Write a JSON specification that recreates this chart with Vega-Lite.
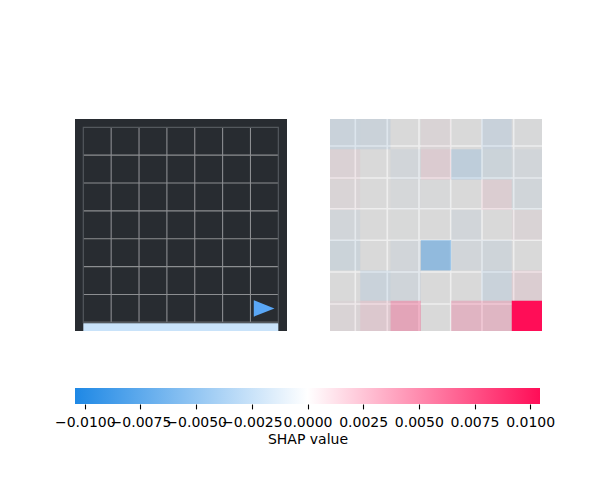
{
  "$schema": "https://vega.github.io/schema/vega-lite/v6.json",
  "background": "white",
  "padding": {"left": 54, "top": 118, "right": 0, "bottom": 0},
  "config": {"view": {"stroke": null}, "font": "DejaVu Sans"},
  "datasets": {
    "shap": [
      {"r": 0, "c": 0, "v": -0.00089}, {"r": 0, "c": 1, "v": -0.00078}, {"r": 0, "c": 2, "v": 0.00002}, {"r": 0, "c": 3, "v": 0.00026}, {"r": 0, "c": 4, "v": 0.00001}, {"r": 0, "c": 5, "v": -0.00094}, {"r": 0, "c": 6, "v": -0.0001},
      {"r": 1, "c": 0, "v": 0.00037}, {"r": 1, "c": 1, "v": 0.00002}, {"r": 1, "c": 2, "v": -0.00042}, {"r": 1, "c": 3, "v": 0.00068}, {"r": 1, "c": 4, "v": -0.00146}, {"r": 1, "c": 5, "v": -0.00073}, {"r": 1, "c": 6, "v": -0.00042},
      {"r": 2, "c": 0, "v": 0.00021}, {"r": 2, "c": 1, "v": 0.00001}, {"r": 2, "c": 2, "v": -0.00016}, {"r": 2, "c": 3, "v": -0.0001}, {"r": 2, "c": 4, "v": 0.00002}, {"r": 2, "c": 5, "v": 0.00063}, {"r": 2, "c": 6, "v": -0.00047},
      {"r": 3, "c": 0, "v": -0.00042}, {"r": 3, "c": 1, "v": 0.00001}, {"r": 3, "c": 2, "v": -0.00003}, {"r": 3, "c": 3, "v": -0.00002}, {"r": 3, "c": 4, "v": -0.00042}, {"r": 3, "c": 5, "v": 0.00001}, {"r": 3, "c": 6, "v": 0.00026},
      {"r": 4, "c": 0, "v": -0.00073}, {"r": 4, "c": 1, "v": 0.00001}, {"r": 4, "c": 2, "v": -0.00042}, {"r": 4, "c": 3, "v": -0.00397}, {"r": 4, "c": 4, "v": -0.00042}, {"r": 4, "c": 5, "v": -0.00063}, {"r": 4, "c": 6, "v": 0.00002},
      {"r": 5, "c": 0, "v": 0.00001}, {"r": 5, "c": 1, "v": -0.00084}, {"r": 5, "c": 2, "v": -0.00052}, {"r": 5, "c": 3, "v": 0.00001}, {"r": 5, "c": 4, "v": 0.00002}, {"r": 5, "c": 5, "v": -0.00089}, {"r": 5, "c": 6, "v": 0.00063},
      {"r": 6, "c": 0, "v": 0.00026}, {"r": 6, "c": 1, "v": 0.00084}, {"r": 6, "c": 2, "v": 0.00271}, {"r": 6, "c": 3, "v": 0.00002}, {"r": 6, "c": 4, "v": 0.00188}, {"r": 6, "c": 5, "v": 0.00177}, {"r": 6, "c": 6, "v": 0.01044}
    ],
    "lines_v": [{"p": 0.835}, {"p": 1.892}, {"p": 2.938}, {"p": 3.985}, {"p": 5.018}, {"p": 6.065}],
    "lines_h": [{"p": 0.891}, {"p": 1.948}, {"p": 2.961}, {"p": 4.005}, {"p": 5.051}, {"p": 6.108}],
    "grid_v": [{"k": 1}, {"k": 2}, {"k": 3}, {"k": 4}, {"k": 5}, {"k": 6}],
    "grid_h": [{"k": 1}, {"k": 2}, {"k": 3}, {"k": 4}, {"k": 5}, {"k": 6}, {"k": 7}],
    "frame": [{"x0": 0, "x1": 7, "y0": 0, "y1": 7}],
    "wall": [{"x0": 0, "x1": 7, "y0": 7.03, "y1": 7.311}],
    "agent": [{"col": 6.49, "row": 6.5}],
    "bar": [{"lo": -0.01044, "hi": 0.01044}]
  },
  "spacing": 56,
  "vconcat": [
    {
      "spacing": 42,
      "hconcat": [
        {
          "width": 212,
          "height": 212,
          "view": {"fill": "#282c31", "stroke": null},
          "layer": [
            {
              "data": {"name": "wall"},
              "mark": {"type": "rect", "color": "#c9e3fa"},
              "encoding": {
                "x": {"field": "x0", "type": "quantitative", "scale": {"domain": [-0.298, 7.311], "nice": false, "zero": false}, "axis": null},
                "x2": {"field": "x1"},
                "y": {"field": "y0", "type": "quantitative", "scale": {"domain": [-0.298, 7.311], "nice": false, "zero": false, "reverse": true}, "axis": null},
                "y2": {"field": "y1"}
              }
            },
            {
              "data": {"name": "grid_v"},
              "mark": {"type": "rule", "color": "#8c8e91", "strokeWidth": 1.1},
              "encoding": {
                "x": {"field": "k", "type": "quantitative", "axis": null},
                "y": {"datum": 0, "type": "quantitative", "axis": null},
                "y2": {"datum": 7}
              }
            },
            {
              "data": {"name": "grid_h"},
              "mark": {"type": "rule", "color": "#8c8e91", "strokeWidth": 1.1},
              "encoding": {
                "y": {"field": "k", "type": "quantitative", "axis": null},
                "x": {"datum": 0, "type": "quantitative", "axis": null},
                "x2": {"datum": 7}
              }
            },
            {
              "data": {"name": "frame"},
              "mark": {"type": "rect", "filled": false, "color": "#53585d", "strokeWidth": 1.2},
              "encoding": {
                "x": {"field": "x0", "type": "quantitative", "axis": null},
                "x2": {"field": "x1"},
                "y": {"field": "y0", "type": "quantitative", "axis": null},
                "y2": {"field": "y1"}
              }
            },
            {
              "data": {"name": "agent"},
              "mark": {"type": "point", "shape": "M -1 -0.8 L 1 0 L -1 0.8 Z", "size": 428, "filled": true, "color": "#5aa7f6", "opacity": 1, "strokeWidth": 0},
              "encoding": {
                "x": {"field": "col", "type": "quantitative", "axis": null},
                "y": {"field": "row", "type": "quantitative", "axis": null}
              }
            }
          ]
        },
        {
          "width": 212,
          "height": 212,
          "view": {"fill": "#d9d9d9", "stroke": null},
          "resolve": {"scale": {"x": "independent", "y": "independent"}},
          "layer": [
            {
              "data": {"name": "lines_v"},
              "mark": {"type": "rule", "color": "#eeeeee", "strokeWidth": 1.6},
              "encoding": {
                "x": {"field": "p", "type": "quantitative", "scale": {"domain": [0, 7], "nice": false, "zero": false}, "axis": null}
              }
            },
            {
              "data": {"name": "lines_h"},
              "mark": {"type": "rule", "color": "#eeeeee", "strokeWidth": 1.6},
              "encoding": {
                "y": {"field": "p", "type": "quantitative", "scale": {"domain": [0, 7], "nice": false, "zero": false, "reverse": true}, "axis": null}
              }
            },
            {
              "data": {"name": "shap"},
              "mark": {"type": "rect", "strokeWidth": 0},
              "encoding": {
                "x": {"field": "c", "type": "ordinal", "scale": {"paddingInner": 0, "paddingOuter": 0}, "axis": null},
                "y": {"field": "r", "type": "ordinal", "scale": {"paddingInner": 0, "paddingOuter": 0}, "axis": null},
                "color": {"field": "v", "type": "quantitative", "scale": {"type": "threshold", "domain": [0], "range": ["#1E88E5", "#FF0D57"]}, "legend": null},
                "opacity": {"field": "v", "type": "quantitative", "scale": {"type": "linear", "domain": [-0.01044, 0, 0.01044], "range": [1, 0, 1]}, "legend": null}
              }
            }
          ]
        }
      ]
    },
    {
      "width": 465,
      "height": 16,
      "data": {"name": "bar"},
      "mark": {
        "type": "rect",
        "color": {
          "gradient": "linear", "x1": 0, "x2": 1, "y1": 0, "y2": 0,
          "stops": [
            {"offset": 0, "color": "#1E88E5"},
            {"offset": 0.5, "color": "#ffffff"},
            {"offset": 1, "color": "#FF0D57"}
          ]
        }
      },
      "encoding": {
        "x": {
          "field": "lo", "type": "quantitative",
          "scale": {"domain": [-0.01044, 0.01044], "nice": false, "zero": false},
          "axis": {
            "title": "SHAP value",
            "values": [-0.01, -0.0075, -0.005, -0.0025, 0, 0.0025, 0.005, 0.0075, 0.01],
            "format": ".4f",
            "domain": false,
            "grid": false,
            "ticks": true,
            "tickSize": 4.9,
            "tickWidth": 1.1,
            "tickColor": "black",
            "labelFont": "DejaVu Sans",
            "labelFontSize": 14,
            "labelColor": "black",
            "labelPadding": 7,
            "labelOverlap": false,
            "labelFlush": false,
            "labelBound": false,
            "titleFont": "DejaVu Sans",
            "titleFontSize": 14,
            "titleFontWeight": "normal",
            "titleColor": "black",
            "titlePadding": 3
          }
        },
        "x2": {"field": "hi"},
        "y": {"datum": 0, "type": "quantitative", "scale": {"domain": [0, 1], "nice": false}, "axis": null},
        "y2": {"datum": 1}
      }
    }
  ]
}
